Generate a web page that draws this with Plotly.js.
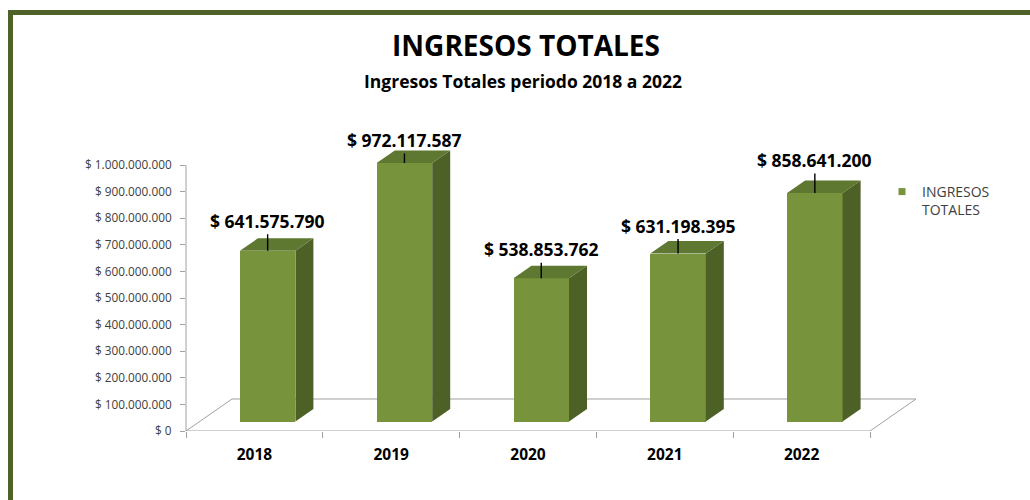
<!DOCTYPE html>
<html><head><meta charset="utf-8">
<script src="https://cdn.plot.ly/plotly-3.0.1.min.js"></script>
<style>
html,body{margin:0;padding:0;background:#fff;}
#wrap{position:relative;width:1030px;height:500px;overflow:hidden;}
#chart{position:absolute;left:0;top:0;width:1030px;height:500px;}
#frame{position:absolute;left:8px;top:10px;width:1100px;height:600px;border-top:5px solid #4f6228;border-left:5px solid #4f6228;pointer-events:none;}
</style></head><body>
<div id="wrap"><div id="chart"></div><div id="frame"></div></div>
<script>
// ---- data ----
const years = ['2018', '2019', '2020', '2021', '2022'];
const ingresos = [641575790, 972117587, 538853762, 631198395, 858641200];
const yTicks = [0, 100000000, 200000000, 300000000, 400000000, 500000000, 600000000, 700000000, 800000000, 900000000, 1000000000];
const seriesName = 'INGRESOS<br>TOTALES';
const chartTitle = 'INGRESOS TOTALES';
const chartSubtitle = 'Ingresos Totales periodo 2018 a 2022';
const labelLift = [30, 23, 29, 28, 33];   // pixel lift of each data label above its bar

// ---- styling / geometry ----
const W = 1030, H = 500, L = 186, R = 90, T = 120, B = 69;
const catPx = 136.8;
const plotW = W - L - R, plotH = H - T - B;
const xMin = -0.5, xMax = xMin + plotW / catPx;
const pxPerUnit = 266 / 1e9;
const yMax = plotH / pxPerUnit;
const ux = 1 / catPx, uy = 1 / pxPerUnit;
const baseY = 9.5 * uy;
const faceOff = -14.5 * ux, faceW = 55.5 * ux;
const depthX = 18 * ux, depthY = 12.5 * uy;
const floorDX = 46 * ux, floorDY = 32 * uy;
const FRONT = '#77933c', SIDE = '#4d6127', TOP = '#5e7731';
const FONT = 'Open Sans, sans-serif';
const xIdx = years.map((_, i) => i);
const fmt = v => String(Math.round(v)).replace(/\B(?=(\d{3})+(?!\d))/g, '.');

const traces = [];
ingresos.forEach((v, i) => {
  const xl = i + faceOff, xr = xl + faceW;
  const yb = baseY, yt = baseY + v;
  traces.push({type: 'scatter', mode: 'lines', fill: 'toself', fillcolor: SIDE,
    line: {width: 0, color: SIDE}, hoverinfo: 'skip', showlegend: false,
    x: [xr, xr + depthX, xr + depthX, xr, xr],
    y: [yb, yb + depthY, yt + depthY, yt, yb]});
  traces.push({type: 'scatter', mode: 'lines', fill: 'toself', fillcolor: TOP,
    line: {width: 0, color: TOP}, hoverinfo: 'skip', showlegend: false,
    x: [xl, xl + depthX, xr + depthX, xr, xl],
    y: [yt, yt + depthY, yt + depthY, yt, yt]});
});
traces.push({type: 'bar', x: xIdx, y: ingresos, base: baseY, width: faceW, offset: faceOff,
  marker: {color: FRONT, line: {width: 0}}, showlegend: false, hoverinfo: 'skip'});
traces.push({type: 'scatter', mode: 'markers', x: [null], y: [null], name: seriesName,
  marker: {symbol: 'square', size: 7, color: FRONT}, showlegend: true});

const annotations = ingresos.map((v, i) => ({
  xref: 'x', yref: 'y', x: i + faceOff + faceW / 2, y: baseY + v,
  text: '$ ' + fmt(v), showarrow: true, arrowhead: 0, arrowwidth: 1.4, arrowcolor: '#000',
  ax: 0, ay: -labelLift[i], standoff: 0,
  font: {family: FONT, size: 17.5, weight: 700, color: '#000'}
}));
annotations.push({xref: 'paper', yref: 'paper', x: (523 - L) / plotW, y: (H - B - 81) / plotH,
  xanchor: 'center', yanchor: 'middle', showarrow: false, text: chartSubtitle,
  font: {family: FONT, size: 17.5, weight: 700, color: '#000'}});

const xN = years.length;
const boundaries = [];
for (let i = 0; i <= xN; i++) boundaries.push(i - 0.5);

const shapes = [
  {type: 'path', xref: 'x', yref: 'y', layer: 'below',
   path: `M ${xMin},0 L ${xMin + floorDX},${floorDY} L ${xN - 0.5 + floorDX},${floorDY} L ${xN - 0.5},0 Z`,
   line: {color: '#a0a0a0', width: 1}, fillcolor: 'rgba(0,0,0,0)'},
  {type: 'line', xref: 'paper', yref: 'y', x0: 0, x1: 0, y0: 0, y1: yTicks[yTicks.length - 1],
   line: {color: '#a0a0a0', width: 1}, layer: 'below'}
];

const layout = {
  width: W, height: H, margin: {l: L, r: R, t: T, b: B, autoexpand: false},
  paper_bgcolor: '#fff', plot_bgcolor: 'rgba(0,0,0,0)',
  separators: ',.',
  title: {text: chartTitle, xref: 'container', yref: 'container', x: 526 / W, xanchor: 'center',
    y: 1 - 46 / H, yanchor: 'middle', font: {family: FONT, size: 28, weight: 700, color: '#000'}},
  xaxis: {type: 'linear', range: [xMin, xMax], tickmode: 'array', tickvals: xIdx, ticktext: years,
    ticks: '', showline: false, showgrid: false, zeroline: false, ticklabelstandoff: 12,
    automargin: false,
    tickfont: {family: FONT, size: 15.5, weight: 700, color: '#000'},
    minor: {tickmode: 'array', tickvals: boundaries, ticks: 'outside', ticklen: 6, tickwidth: 1,
      tickcolor: '#a0a0a0', showgrid: false}},
  yaxis: {range: [0, yMax], tickmode: 'array', tickvals: yTicks, ticktext: yTicks.map(v => '$ ' + fmt(v)),
    ticks: 'outside', ticklen: 5, tickwidth: 1, tickcolor: '#a0a0a0', showline: false, showgrid: false,
    zeroline: false, automargin: false, ticklabelstandoff: 6,
    tickfont: {family: FONT, size: 11.8, color: '#404040'}},
  showlegend: true,
  legend: {xref: 'container', yref: 'container', x: (922 - 40) / W, y: 1 - 176 / H,
    xanchor: 'left', yanchor: 'top', valign: 'top', bgcolor: 'rgba(0,0,0,0)',
    font: {family: FONT, size: 14, color: '#404040'}},
  annotations: annotations,
  shapes: shapes,
  bargap: 0
};

Plotly.newPlot('chart', traces, layout, {staticPlot: true, displayModeBar: false});
</script>
</body></html>
